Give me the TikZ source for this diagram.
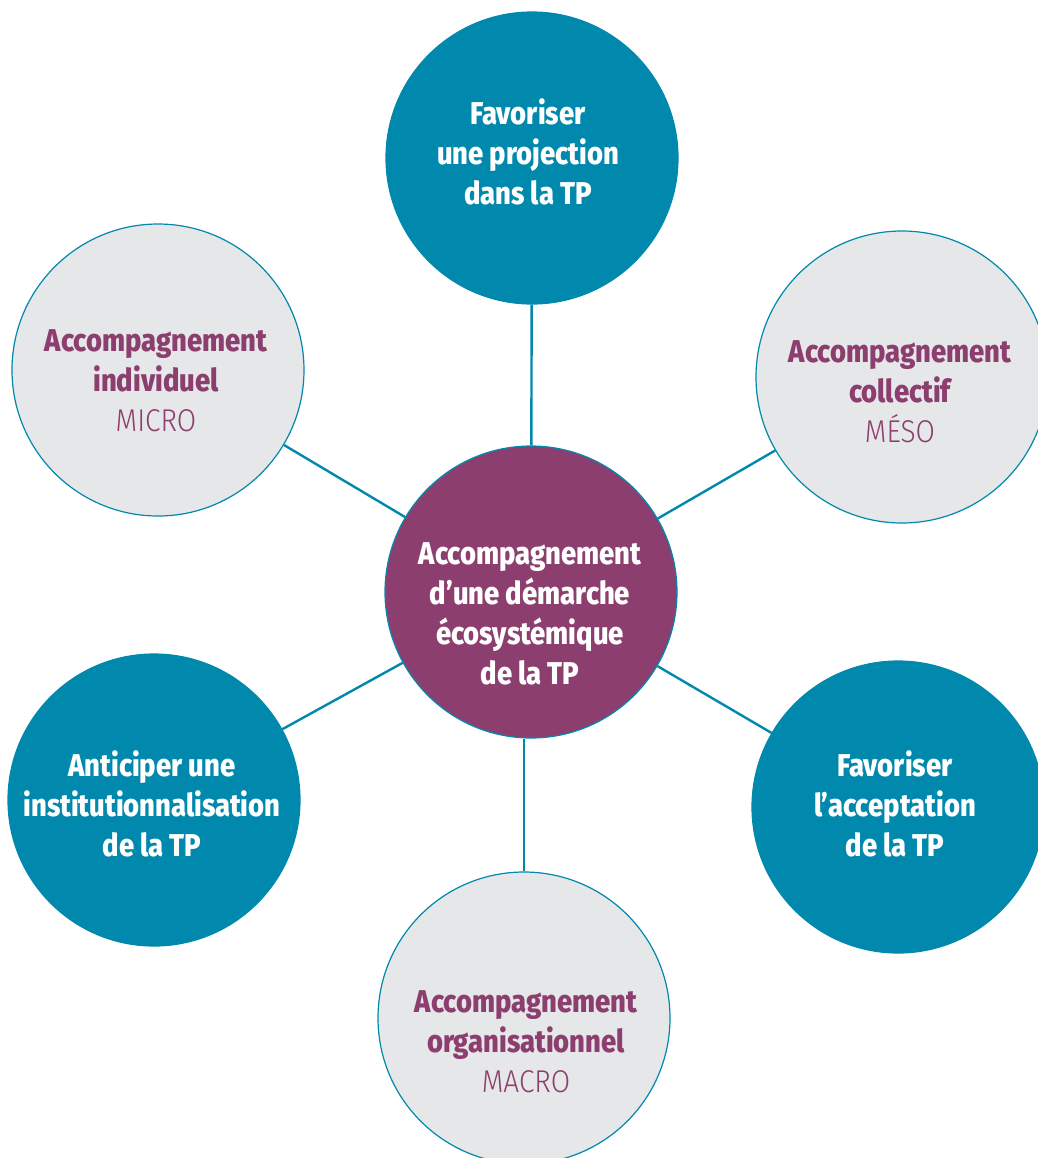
\documentclass[tikz,border=0pt]{standalone}
\usepackage{fontspec}
\setmainfont{Fira Sans}[FakeStretch=0.87, BoldFont={Fira Sans ExtraBold}, BoldFeatures={FakeStretch=0.87}]
\newfontfamily\lightfont{Fira Sans Light}[FakeStretch=0.89]

\definecolor{tealblue}{HTML}{0088AD}
\definecolor{plum}{HTML}{8C3F6E}
\definecolor{pale}{HTML}{E6E7E8}

\tikzset{
  ring/.style={circle, minimum size=146pt, inner sep=0pt, draw=tealblue, line width=0.6pt},
  teal disc/.style={ring, fill=tealblue},
  grey disc/.style={ring, fill=pale},
  hub disc/.style={ring, fill=plum},
  white text/.style={align=center, text=white, font=\fontsize{15.75}{20}\selectfont\bfseries},
  plum text/.style={align=center, text=plum, font=\fontsize{15.75}{20}\selectfont\bfseries},
  link/.style={draw=tealblue, line width=1.2pt},
}

\begin{document}
\begin{tikzpicture}[x=0.5pt, y=-0.5pt]
    \useasboundingbox (0,0) rectangle (1038,1158);

    % Circles
    \node[hub disc]  (hub)   at (531,592)  {};
    \node[teal disc] (proj)  at (532,158)  {};
    \node[grey disc] (micro) at (158,370)  {};
    \node[grey disc] (meso)  at (902,377)  {};
    \node[teal disc] (inst)  at (154,800)  {};
    \node[teal disc] (accep) at (898,807)  {};
    \node[grey disc] (macro) at (524,1018) {};

    % Links
    \draw[link] (hub) -- (proj);
    \draw[link] (hub) -- (micro);
    \draw[link] (hub) -- (meso);
    \draw[link] (hub) -- (inst);
    \draw[link] (hub) -- (accep);
    \draw[link] (hub.south -| macro) -- (macro);

    % Texts
    \node[white text] (hubtxt) at (530,614) {Accompagnement\\d’une démarche\\écosystémique\\de la TP};
    \node[white text] (projtxt) at (528,152) {Favoriser\\une projection\\dans la TP};
    \node[plum text] (microtxt) at (156,381) {Accompagnement\\individuel\\{\mdseries\lightfont MICRO}};
    \node[plum text] (mesotxt) at (900,392) {Accompagnement\\collectif\\{\mdseries\lightfont MÉSO}};
    \node[white text] (insttxt) at (152,804) {Anticiper une\\institutionnalisation\\de la TP};
    \node[white text] (acceptxt) at (895,804) {Favoriser\\l’acceptation\\de la TP};
    \node[plum text] (macrotxt) at (526,1042) {Accompagnement\\organisationnel\\{\mdseries\lightfont MACRO}};
\end{tikzpicture}
\end{document}
